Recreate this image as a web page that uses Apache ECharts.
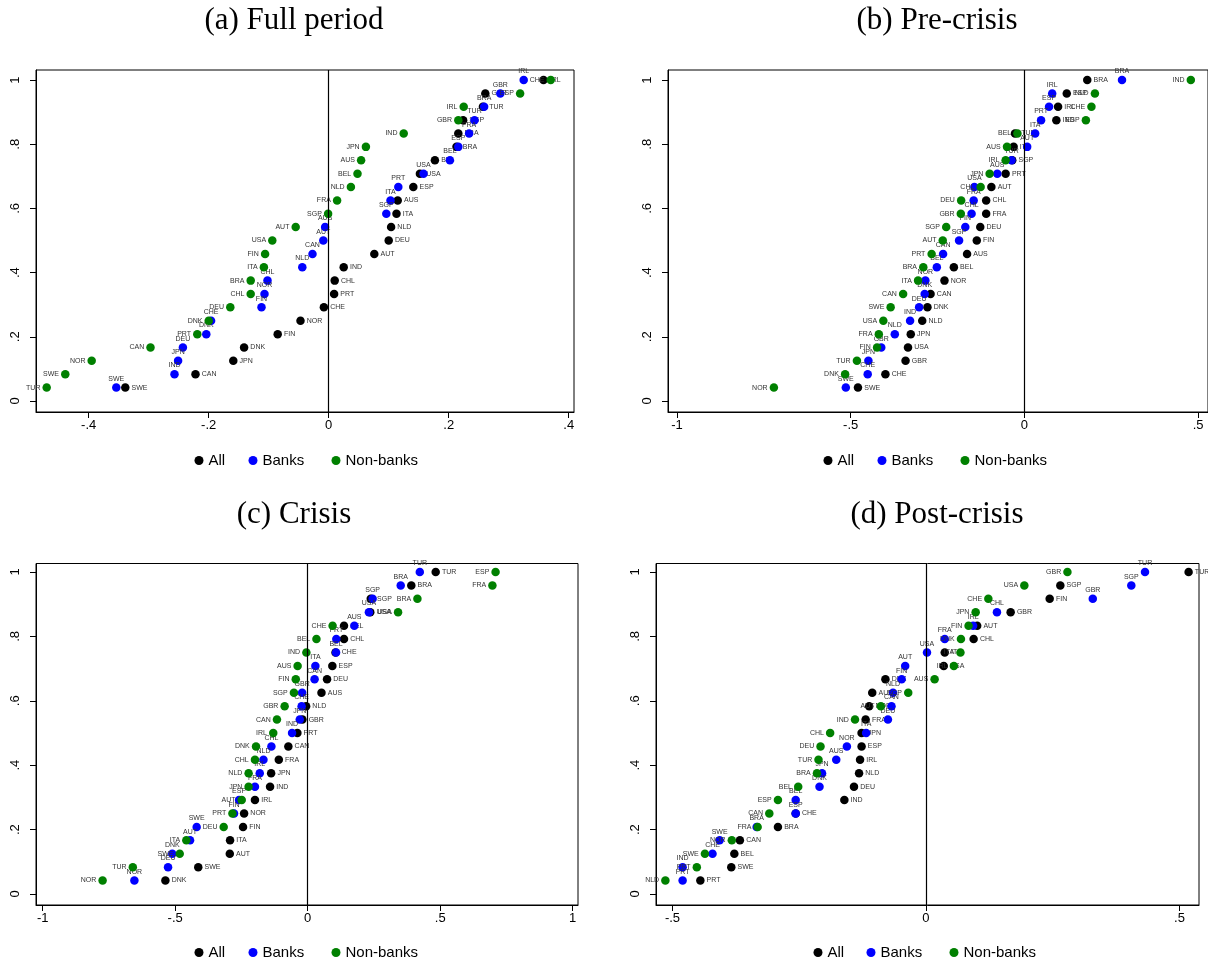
<!DOCTYPE html>
<html><head><meta charset="utf-8">
<script src="https://cdn.jsdelivr.net/npm/echarts@6/dist/echarts.min.js"></script>
<style>html,body{margin:0;padding:0;background:#fff}#c{width:1208px;height:965px}</style>
</head><body><div id="c"></div>
<script>
// cumulative share of countries (rank / 24)
const cumShare = [0.0417,0.0833,0.125,0.1667,0.2083,0.25,0.2917,0.3333,0.375,0.4167,0.4583,0.5,0.5417,0.5833,0.625,0.6667,0.7083,0.75,0.7917,0.8333,0.875,0.9167,0.9583,1];
const yTicks = [0,0.2,0.4,0.6,0.8,1];

// (a) Full period
const aAllNames = ['SWE','CAN','JPN','DNK','FIN','NOR','CHE','PRT','CHL','IND','AUT','DEU','NLD','ITA','AUS','ESP','USA','BEL','BRA','FRA','SGP','TUR','GBR','IRL'];
const aAllVals = [-0.339,-0.222,-0.159,-0.141,-0.085,-0.047,-0.008,0.009,0.010,0.025,0.076,0.100,0.104,0.113,0.115,0.141,0.152,0.177,0.213,0.216,0.224,0.257,0.261,0.358];
const aBankNames = ['SWE','IND','JPN','DEU','DNK','CHE','FIN','NOR','CHL','NLD','CAN','AUT','AUS','SGP','ITA','PRT','USA','BEL','ESP','FRA','TUR','BRA','GBR','IRL'];
const aBankVals = [-0.354,-0.257,-0.251,-0.243,-0.204,-0.196,-0.112,-0.107,-0.102,-0.044,-0.027,-0.009,-0.006,0.096,0.103,0.116,0.158,0.202,0.216,0.234,0.243,0.259,0.286,0.325];
const aNonNames = ['TUR','SWE','NOR','CAN','PRT','DNK','DEU','CHL','BRA','ITA','FIN','USA','AUT','SGP','FRA','NLD','BEL','AUS','JPN','IND','GBR','IRL','ESP','CHE'];
const aNonVals = [-0.470,-0.439,-0.395,-0.297,-0.219,-0.200,-0.164,-0.130,-0.130,-0.108,-0.106,-0.094,-0.055,-0.001,0.014,0.037,0.048,0.054,0.062,0.125,0.216,0.225,0.319,0.370];
const aXTicks = [-0.4,-0.2,0,0.2,0.4];

// (b) Pre-crisis
const bAllNames = ['SWE','CHE','GBR','USA','JPN','NLD','DNK','CAN','NOR','BEL','AUS','FIN','DEU','FRA','CHL','AUT','PRT','SGP','ITA','TUR','IND','IRL','ESP','BRA'];
const bAllVals = [-0.479,-0.400,-0.342,-0.335,-0.327,-0.294,-0.279,-0.270,-0.230,-0.203,-0.165,-0.137,-0.127,-0.110,-0.110,-0.095,-0.054,-0.035,-0.031,-0.027,0.092,0.097,0.122,0.181];
const bBankNames = ['SWE','CHE','JPN','GBR','NLD','IND','DEU','DNK','NOR','BEL','CAN','SGP','FIN','CHL','FRA','USA','AUS','TUR','AUT','ITA','PRT','ESP','IRL','BRA'];
const bBankVals = [-0.514,-0.451,-0.449,-0.412,-0.373,-0.329,-0.303,-0.287,-0.285,-0.252,-0.234,-0.188,-0.170,-0.152,-0.146,-0.144,-0.078,-0.037,0.008,0.031,0.048,0.071,0.080,0.281];
const bNonNames = ['NOR','DNK','TUR','FIN','FRA','USA','SWE','CAN','ITA','BRA','PRT','AUT','SGP','GBR','DEU','CHL','JPN','IRL','AUS','BEL','ESP','CHE','NLD','IND'];
const bNonVals = [-0.721,-0.516,-0.482,-0.424,-0.419,-0.406,-0.385,-0.349,-0.306,-0.291,-0.267,-0.235,-0.225,-0.183,-0.182,-0.126,-0.100,-0.054,-0.050,-0.020,0.177,0.193,0.203,0.479];
const bXTicks = [-1,-0.5,0,0.5];

// (c) Crisis
const cAllNames = ['DNK','SWE','AUT','ITA','FIN','NOR','IRL','IND','JPN','FRA','CAN','PRT','GBR','NLD','AUS','DEU','ESP','CHE','CHL','BEL','USA','SGP','BRA','TUR'];
const cAllVals = [-0.537,-0.413,-0.294,-0.293,-0.244,-0.240,-0.199,-0.142,-0.138,-0.109,-0.073,-0.039,-0.020,-0.006,0.052,0.073,0.093,0.105,0.137,0.137,0.236,0.238,0.391,0.483];
const cBankNames = ['NOR','DEU','DNK','AUT','SWE','FIN','ESP','FRA','IRL','NLD','CHL','IND','JPN','CHE','GBR','CAN','ITA','BEL','PRT','AUS','USA','SGP','BRA','TUR'];
const cBankVals = [-0.654,-0.527,-0.511,-0.444,-0.419,-0.278,-0.259,-0.199,-0.181,-0.167,-0.137,-0.059,-0.030,-0.023,-0.021,0.026,0.029,0.107,0.108,0.176,0.231,0.245,0.351,0.423];
const cNonNames = ['NOR','TUR','SWE','ITA','DEU','PRT','AUT','JPN','NLD','CHL','DNK','IRL','CAN','GBR','SGP','FIN','AUS','IND','BEL','CHE','USA','BRA','FRA','ESP'];
const cNonVals = [-0.774,-0.660,-0.483,-0.458,-0.317,-0.284,-0.249,-0.223,-0.223,-0.199,-0.195,-0.130,-0.116,-0.087,-0.052,-0.045,-0.038,-0.005,0.033,0.094,0.341,0.414,0.697,0.709];
const cXTicks = [-1,-0.5,0,0.5,1];

// (d) Post-crisis
const dAllNames = ['PRT','SWE','BEL','CAN','BRA','CHE','IND','DEU','NLD','IRL','ESP','JPN','FRA','NOR','AUS','DNK','USA','ITA','CHL','AUT','GBR','FIN','SGP','TUR'];
const dAllVals = [-0.445,-0.384,-0.378,-0.367,-0.292,-0.257,-0.161,-0.142,-0.132,-0.130,-0.127,-0.127,-0.119,-0.112,-0.106,-0.080,0.035,0.037,0.094,0.101,0.167,0.244,0.265,0.518];
const dBankNames = ['PRT','IND','CHE','SWE','BRA','ESP','BEL','DNK','JPN','AUS','NOR','ITA','DEU','CAN','NLD','FIN','AUT','USA','FRA','IRL','CHL','GBR','SGP','TUR'];
const dBankVals = [-0.480,-0.480,-0.421,-0.407,-0.334,-0.257,-0.257,-0.210,-0.205,-0.177,-0.156,-0.118,-0.075,-0.068,-0.065,-0.048,-0.041,0.002,0.037,0.093,0.140,0.329,0.405,0.432];
const dNonNames = ['NLD','PRT','SWE','NOR','FRA','CAN','ESP','BEL','BRA','TUR','DEU','CHL','IND','AUT','SGP','AUS','IRL','ITA','DNK','FIN','JPN','CHE','USA','GBR'];
const dNonVals = [-0.514,-0.452,-0.436,-0.383,-0.332,-0.309,-0.292,-0.252,-0.215,-0.212,-0.208,-0.189,-0.140,-0.089,-0.035,0.017,0.055,0.068,0.069,0.084,0.098,0.123,0.194,0.279];
const dXTicks = [-0.5,0,0.5];

const titles = ['(a) Full period','(b) Pre-crisis','(c) Crisis','(d) Post-crisis'];
const seriesNames = ['All','Banks','Non-banks'];
const colors = ['#000000','#0000ff','#008000'];

const panels = [
  {all:[aAllNames,aAllVals], bank:[aBankNames,aBankVals], non:[aNonNames,aNonVals], xt:aXTicks,
   grid:{left:36,top:70,width:538,height:342}, xr:[-0.4878,0.4088], yr:[-0.0343,1.0312],
   title:{x:294,y:5}, leg:{xs:[194.5,248.5,331.5], y:453}},
  {all:[bAllNames,bAllVals], bank:[bBankNames,bBankVals], non:[bNonNames,bNonVals], xt:bXTicks,
   grid:{left:668,top:70,width:542,height:342}, xr:[-1.0258,0.5285], yr:[-0.0343,1.0312],
   title:{x:937,y:5}, leg:{xs:[823.5,877.5,960.5], y:453}},
  {all:[cAllNames,cAllVals], bank:[cBankNames,cBankVals], non:[cNonNames,cNonVals], xt:cXTicks,
   grid:{left:36,top:563.5,width:542,height:341.5}, xr:[-1.0253,1.02], yr:[-0.0342,1.0264],
   title:{x:294,y:499}, leg:{xs:[194.5,248.5,331.5], y:945}},
  {all:[dAllNames,dAllVals], bank:[dBankNames,dBankVals], non:[dNonNames,dNonVals], xt:dXTicks,
   grid:{left:656,top:563.5,width:543,height:341.5}, xr:[-0.5325,0.5385], yr:[-0.0342,1.0264],
   title:{x:937,y:499}, leg:{xs:[813.5,866.5,949.5], y:945}}
];

function fmt(v){
  if (Math.abs(v) < 1e-9) return '0';
  let s = (Math.round(v*10)/10).toString();
  s = s.replace(/^0\./,'.').replace(/^-0\./,'-.');
  return s;
}
function pts(names, vals){ return vals.map((v,i)=>({name:names[i], value:[v, cumShare[i]]})); }

const grids=[], xAxes=[], yAxes=[], series=[], titleC=[], legends=[];
const sans = 'Liberation Sans, Arial, sans-serif';
panels.forEach((p,g)=>{
  grids.push(Object.assign({show:true, borderColor:'#000', borderWidth:1, backgroundColor:'transparent'}, p.grid));
  xAxes.push({type:'value', gridIndex:g, min:p.xr[0], max:p.xr[1],
    axisLine:{show:true, onZero:false, lineStyle:{color:'#000', width:1}},
    axisTick:{show:true, length:6, lineStyle:{color:'#000'}, customValues:p.xt},
    axisLabel:{show:true, customValues:p.xt, formatter:fmt, fontSize:13, color:'#000', fontFamily:sans, margin:7},
    splitLine:{show:false}});
  yAxes.push({type:'value', gridIndex:g, min:p.yr[0], max:p.yr[1],
    axisLine:{show:true, onZero:false, lineStyle:{color:'#000', width:1}},
    axisTick:{show:true, length:6, lineStyle:{color:'#000'}, customValues:yTicks},
    axisLabel:{show:true, customValues:yTicks, formatter:fmt, fontSize:13, color:'#000', fontFamily:sans, rotate:90, margin:14},
    splitLine:{show:false}});
  titleC.push({text:titles[g], left:p.title.x, top:p.title.y, textAlign:'center', padding:0,
    textStyle:{fontFamily:'Liberation Serif, serif', fontSize:31, fontWeight:'normal', color:'#000'}});
  const sets = [p.all, p.bank, p.non];
  const positions = ['right','top','left'];
  sets.forEach((s,k)=>{
    const ser = {type:'scatter', name:seriesNames[k], xAxisIndex:g, yAxisIndex:g, z:2+k,
      data:pts(s[0], s[1]), symbol:'circle', symbolSize:8.5,
      itemStyle:{color:colors[k], opacity:1},
      label:{show:true, position:positions[k], distance:k===1?1:2, formatter:'{b}', fontSize:7,
        color:'#333', fontFamily:sans},
      emphasis:{disabled:true}, silent:true, animation:false};
    if (k===0) {
      ser.markLine = {silent:true, symbol:'none', animation:false,
        lineStyle:{color:'#000', width:1.2, type:'solid'}, label:{show:false},
        data:[{xAxis:0}]};
    }
    series.push(ser);
    legends.push({data:[seriesNames[k]], left:p.leg.xs[k], top:p.leg.y, padding:0,
      icon:'circle', itemWidth:9, itemHeight:9, itemGap:0, selectedMode:false,
      textStyle:{fontSize:15, color:'#000', fontFamily:sans}});
  });
});

const chart = echarts.init(document.getElementById('c'), null, {renderer:'canvas'});
chart.setOption({backgroundColor:'#fff', animation:false, title:titleC, grid:grids, xAxis:xAxes, yAxis:yAxes, legend:legends, series:series});
</script></body></html>
